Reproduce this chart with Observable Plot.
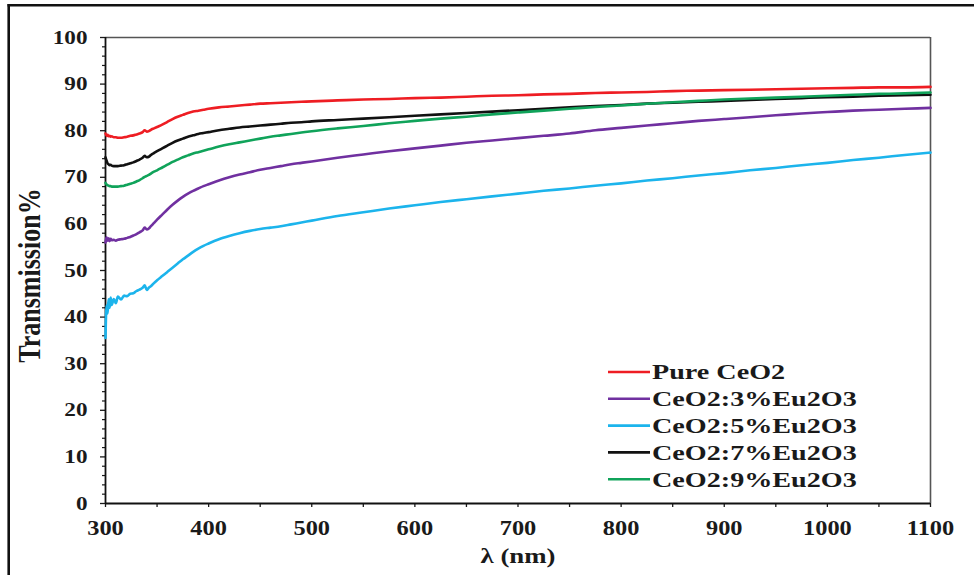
<!DOCTYPE html>
<html>
<head>
<meta charset="utf-8">
<script src="https://cdn.jsdelivr.net/npm/d3@7"></script>
<script src="https://cdn.jsdelivr.net/npm/@observablehq/plot@0.6"></script>
<style>
  html, body { margin: 0; padding: 0; background: #fff; }
  #wrap { position: relative; width: 974px; height: 575px; overflow: hidden; }
  #wrap svg.overlay { position: absolute; left: 0; top: 0; pointer-events: none; }
</style>
</head>
<body>
<div id="wrap"></div>
<script>
// Wavelength grid (nm) shared by all spectra
const wavelength = [300,301,302,303,304,305,306,308,310,312,315,318,321,324,327,330,333,336,338,340,342,344,347,350,
  355,360,365,370,375,380,385,390,395,400,410,420,430,440,450,460,470,480,490,500,
  525,550,575,600,625,650,675,700,725,750,775,800,825,850,875,900,925,950,975,1000,1025,1050,1075,1100];

// Transmission (%) for each sample
const pureCeO2 = [79.4,78.9,79.1,78.8,78.9,78.7,78.8,78.6,78.6,78.5,78.5,78.6,78.7,78.9,79.0,79.2,79.4,79.7,80.1,79.8,79.9,80.2,80.5,80.8,
  81.3,81.9,82.5,83.0,83.4,83.8,84.1,84.3,84.5,84.7,85.0,85.2,85.4,85.6,85.8,85.9,86.0,86.1,86.2,86.3,
  86.5,86.7,86.8,87.0,87.1,87.3,87.5,87.6,87.8,87.9,88.1,88.2,88.3,88.5,88.6,88.7,88.8,88.9,89.0,89.1,89.2,89.3,89.3,89.4];
const eu3 = [56.0,57.1,56.4,56.9,56.3,56.8,56.5,56.6,56.4,56.6,56.7,56.8,57.0,57.2,57.5,57.8,58.2,58.6,59.2,58.8,59.0,59.5,60.2,60.9,
  62.0,63.1,64.1,65.0,65.8,66.5,67.1,67.6,68.1,68.5,69.3,70.0,70.6,71.1,71.6,72.0,72.4,72.8,73.1,73.4,
  74.2,74.9,75.6,76.2,76.8,77.4,77.9,78.4,78.9,79.4,80.1,80.6,81.1,81.6,82.1,82.5,82.9,83.3,83.7,84.0,84.3,84.5,84.7,84.9];
const eu5 = [35.5,42.5,40.8,43.8,42.0,44.2,42.6,43.9,43.0,44.4,43.8,44.6,44.5,45.0,45.1,45.6,45.9,46.3,46.8,45.8,46.3,46.6,47.3,47.9,
  48.8,49.7,50.6,51.5,52.4,53.2,54.0,54.7,55.3,55.8,56.7,57.4,58.0,58.5,58.9,59.2,59.5,59.9,60.3,60.7,
  61.7,62.5,63.3,64.0,64.7,65.3,65.9,66.5,67.1,67.6,68.2,68.7,69.3,69.8,70.4,70.9,71.5,72.0,72.6,73.1,73.7,74.2,74.8,75.3];
const eu7 = [74.3,73.6,73.0,72.8,72.6,72.7,72.5,72.4,72.4,72.4,72.5,72.6,72.8,73.0,73.2,73.5,73.8,74.2,74.6,74.3,74.4,74.8,75.2,75.6,
  76.2,76.8,77.4,77.9,78.3,78.7,79.0,79.3,79.5,79.7,80.1,80.4,80.7,80.9,81.1,81.3,81.5,81.7,81.8,82.0,
  82.3,82.6,82.9,83.2,83.5,83.8,84.1,84.4,84.7,85.0,85.3,85.5,85.8,86.0,86.2,86.4,86.6,86.8,87.0,87.2,87.3,87.5,87.6,87.7];
const eu9 = [68.8,68.5,68.3,68.2,68.1,68.1,68.0,68.0,68.0,68.0,68.1,68.2,68.4,68.6,68.8,69.1,69.4,69.8,70.1,70.3,70.5,70.8,71.2,71.5,
  72.1,72.7,73.3,73.8,74.3,74.7,75.1,75.4,75.7,76.0,76.6,77.1,77.5,77.9,78.3,78.7,79.0,79.3,79.6,79.9,
  80.5,81.0,81.6,82.1,82.6,83.0,83.5,83.9,84.3,84.7,85.1,85.4,85.8,86.1,86.4,86.7,86.9,87.1,87.3,87.5,87.7,87.9,88.0,88.2];

const seriesNames = ["Pure CeO2", "CeO2:3%Eu2O3", "CeO2:5%Eu2O3", "CeO2:7%Eu2O3", "CeO2:9%Eu2O3"];
const seriesValues = [pureCeO2, eu3, eu5, eu7, eu9];
const seriesColors = ["#ee1d23", "#7030a0", "#1cb4ec", "#111111", "#10a35a"];

const xTicks = [300, 400, 500, 600, 700, 800, 900, 1000, 1100];
const xMinorTicks = [350, 450, 550, 650, 750, 850, 950, 1050];
const yTicks = [0, 10, 20, 30, 40, 50, 60, 70, 80, 90, 100];
const yMinorTicks = d3.range(0, 101, 2).filter(v => v % 10 !== 0);

// Long-format table for the line mark
const rows = seriesNames.flatMap((name, k) =>
  wavelength.map((w, i) => ({series: name, wl: w, T: seriesValues[k][i]})));

const serif = "'Liberation Serif', 'Times New Roman', serif";

const chart = Plot.plot({
  width: 974,
  height: 575,
  marginLeft: 105,
  marginRight: 44,
  marginTop: 37,
  marginBottom: 72,
  style: {fontFamily: serif, fontWeight: "bold", background: "transparent", color: "#1a1a1a", overflow: "visible"},
  x: {domain: [300, 1100], label: null},
  y: {domain: [0, 100], label: null},
  color: {domain: seriesNames, range: seriesColors},
  marks: [
    // plot box: top and right edges
    Plot.ruleY([100], {stroke: "#555", strokeWidth: 1.6}),
    Plot.ruleX([1100], {stroke: "#555", strokeWidth: 1.6}),
    Plot.axisX({ticks: xMinorTicks, tickSize: 4, text: null, strokeWidth: 1.3}),
    Plot.axisX({ticks: xTicks, tickSize: 4, tickPadding: 13, tickFormat: d => String(d), fontSize: 20, fontWeight: "bold", strokeWidth: 1.3, label: null}),
    Plot.axisY({ticks: yMinorTicks, tickSize: 3, text: null, strokeWidth: 1.2}),
    Plot.axisY({ticks: yTicks, tickSize: 5, tickPadding: 13, tickFormat: d => String(d), fontSize: 19, fontWeight: "bold", strokeWidth: 1.3, label: null}),
    Plot.ruleX([300], {stroke: "#111", strokeWidth: 1.8}),
    Plot.ruleY([0], {stroke: "#111", strokeWidth: 1.8}),
    Plot.line(rows, {x: "wl", y: "T", z: "series", stroke: "series", strokeWidth: 2.6, curve: "monotone-x"}),
    Plot.text(["Transmission%"], {frameAnchor: "left", textAnchor: "middle", dx: -76, dy: 5, rotate: -90, text: d => d, fontSize: 26, fontWeight: "bold"}),
    Plot.text(["λ (nm)"], {frameAnchor: "bottom", dy: 59, text: d => d, fontSize: 22, fontWeight: "bold"})
  ]
});

// widen the glyphs horizontally around each label's anchor point
function stretchText(root, s) {
  root.querySelectorAll("text").forEach(t => {
    const x = parseFloat(t.getAttribute("x") || 0) || 0;
    const y = parseFloat(t.getAttribute("y") || 0) || 0;
    let px = x, py = y;
    const list = t.transform.baseVal;
    if (list.numberOfItems) {
      const m = list.consolidate().matrix;
      px = m.a * x + m.c * y + m.e;
      py = m.b * x + m.d * y + m.f;
    }
    const g = document.createElementNS("http://www.w3.org/2000/svg", "g");
    g.setAttribute("transform", `translate(${px},${py}) scale(${s},1) translate(${-px},${-py})`);
    t.parentNode.insertBefore(g, t);
    g.appendChild(t);
  });
}

const wrap = document.getElementById("wrap");
wrap.appendChild(chart);
stretchText(chart, 1.22);

// Legend and figure border drawn on top of the chart
const overlay = d3.select(wrap).append("svg")
  .attr("class", "overlay")
  .attr("width", 974).attr("height", 575);

overlay.append("line").attr("x1", 7.5).attr("x2", 974).attr("y1", 5.3).attr("y2", 5.3)
  .attr("stroke", "#111").attr("stroke-width", 2.6);
overlay.append("line").attr("x1", 8.7).attr("x2", 8.7).attr("y1", 4).attr("y2", 575)
  .attr("stroke", "#111").attr("stroke-width", 2.6);

const legend = overlay.append("g").attr("transform", "translate(608,372)");
const item = legend.selectAll("g").data(seriesNames).join("g")
  .attr("transform", (d, i) => `translate(0,${i * 26.8})`);
item.append("line").attr("x1", 0).attr("x2", 42).attr("y1", 0).attr("y2", 0)
  .attr("stroke", (d, i) => seriesColors[i]).attr("stroke-width", 2.6);
item.append("text")
  .attr("transform", "translate(44,0) scale(1.28,1)")
  .attr("dy", "0.34em")
  .attr("font-family", serif).attr("font-weight", "bold").attr("font-size", 22)
  .attr("fill", "#1a1a1a")
  .text(d => d);
</script>
</body>
</html>
